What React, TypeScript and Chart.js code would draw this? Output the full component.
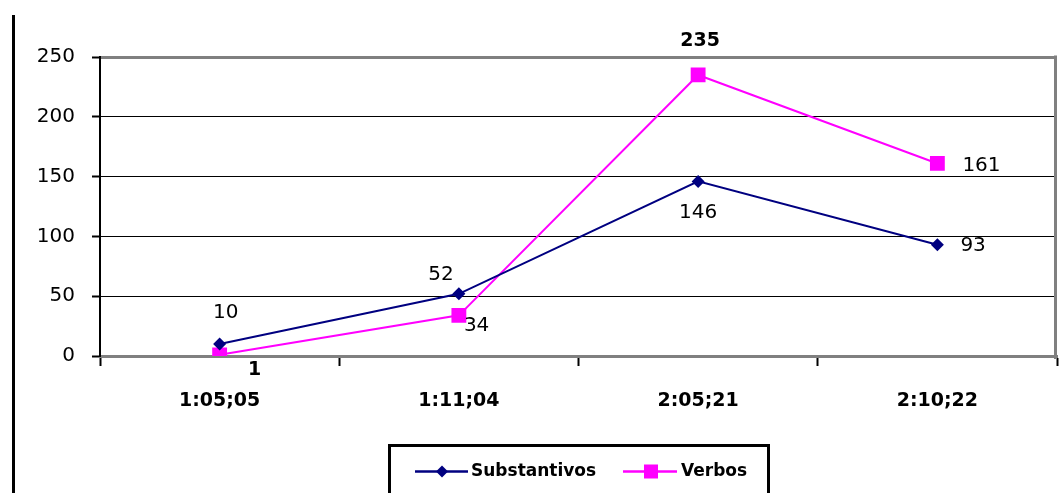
import React, { useEffect, useRef } from "react";
import { Chart, registerables } from "chart.js";

Chart.register(...registerables);

const categories = ["1:05;05", "1:11;04", "2:05;21", "2:10;22"];
const substantivos = [10, 52, 146, 93];
const verbos = [1, 34, 235, 161];
const yTicks = [0, 50, 100, 150, 200, 250];

// label placement (offsets from point, in px) and weight
const subLabelPos = [
  { align: "center", dx: 6, dy: -31, bold: false },
  { align: "center", dx: -18, dy: -19, bold: false },
  { align: "center", dx: 0, dy: 31, bold: false },
  { align: "left", dx: 23, dy: 1, bold: false },
];
const verbLabelPos = [
  { align: "center", dx: 35, dy: 15, bold: true },
  { align: "left", dx: 5, dy: 10, bold: false },
  { align: "center", dx: 2, dy: -34, bold: true },
  { align: "left", dx: 25, dy: 2, bold: false },
];

const NAVY = "#000080";
const MAGENTA = "#FF00FF";
const FONT = "'DejaVu Sans', Verdana, sans-serif";

const framePlugin = {
  id: "frame",
  beforeDraw(chart: any) {
    const ctx = chart.ctx;
    ctx.save();
    ctx.fillStyle = "#fff";
    ctx.fillRect(0, 0, chart.width, chart.height);
    ctx.strokeStyle = "#000";
    ctx.lineWidth = 3;
    ctx.beginPath();
    ctx.moveTo(13.5, 15);
    ctx.lineTo(13.5, chart.height);
    ctx.stroke();
    ctx.restore();
  },
  afterDatasetsDraw(chart: any) {
    const ctx = chart.ctx;
    const ca = chart.chartArea;
    ctx.save();
    ctx.strokeStyle = "#808080";
    ctx.lineWidth = 3;
    ctx.beginPath();
    ctx.moveTo(ca.right - 1.5, ca.top - 1.5);
    ctx.lineTo(ca.right - 1.5, ca.bottom + 3);
    ctx.stroke();
    ctx.restore();
  },
};

const labelsPlugin = {
  id: "pointLabels",
  afterDatasetsDraw(chart: any) {
    const ctx = chart.ctx;
    const sets = [
      { idx: 0, values: substantivos, pos: subLabelPos },
      { idx: 1, values: verbos, pos: verbLabelPos },
    ];
    ctx.save();
    ctx.fillStyle = "#000";
    ctx.textBaseline = "middle";
    sets.forEach((s) => {
      const meta = chart.getDatasetMeta(s.idx);
      meta.data.forEach((pt: any, i: number) => {
        const p = s.pos[i];
        ctx.font = (p.bold ? "bold 19px " : "20px ") + FONT;
        ctx.textAlign = p.align;
        ctx.fillText(String(s.values[i]), pt.x + p.dx, pt.y + p.dy);
      });
    });
    ctx.restore();
  },
};

const legendPlugin = {
  id: "customLegend",
  afterDraw(chart: any) {
    const ctx = chart.ctx;
    ctx.save();
    ctx.strokeStyle = "#000";
    ctx.lineWidth = 3;
    ctx.strokeRect(389.5, 445.5, 379, 80);
    const y = 471.5;
    // Substantivos
    ctx.strokeStyle = NAVY;
    ctx.lineWidth = 2.5;
    ctx.beginPath();
    ctx.moveTo(415, y);
    ctx.lineTo(468, y);
    ctx.stroke();
    ctx.fillStyle = NAVY;
    ctx.beginPath();
    ctx.moveTo(442, y - 6);
    ctx.lineTo(448, y);
    ctx.lineTo(442, y + 6);
    ctx.lineTo(436, y);
    ctx.closePath();
    ctx.fill();
    // Verbos
    ctx.strokeStyle = MAGENTA;
    ctx.beginPath();
    ctx.moveTo(623, y);
    ctx.lineTo(677, y);
    ctx.stroke();
    ctx.fillStyle = MAGENTA;
    ctx.fillRect(644, y - 7, 14, 14);
    ctx.fillStyle = "#000";
    ctx.font = "bold 17px " + FONT;
    ctx.textAlign = "left";
    ctx.textBaseline = "middle";
    ctx.fillText(chart.data.datasets[0].label, 471, y);
    ctx.fillText(chart.data.datasets[1].label, 681, y);
    ctx.restore();
  },
};

export default function App() {
  const ref = useRef<HTMLCanvasElement | null>(null);
  useEffect(() => {
    if (!ref.current) return;
    const chart = new Chart(ref.current, {
      type: "line",
      data: {
        labels: categories,
        datasets: [
          {
            label: "Substantivos",
            data: substantivos,
            borderColor: NAVY,
            backgroundColor: NAVY,
            borderWidth: 2,
            pointStyle: "rectRot",
            pointRadius: 6.5,
            pointBorderWidth: 0,
            tension: 0,
          },
          {
            label: "Verbos",
            data: verbos,
            borderColor: MAGENTA,
            backgroundColor: MAGENTA,
            borderWidth: 2,
            pointStyle: "rect",
            pointRadius: 10.5,
            pointBorderWidth: 0,
            tension: 0,
          },
        ],
      },
      options: {
        animation: false,
        responsive: false,
        maintainAspectRatio: false,
        devicePixelRatio: 1,
        layout: { autoPadding: false, padding: { top: 57, right: 5, left: 0, bottom: 0 } },
        plugins: {
          legend: { display: false },
          tooltip: { enabled: false },
        },
        scales: {
          x: {
            offset: true,
            grid: {
              offset: true,
              drawOnChartArea: false,
              drawTicks: true,
              tickLength: 10,
              tickColor: "#000",
              tickWidth: 2,
            },
            border: { display: true, color: "#808080", width: 3 },
            ticks: {
              color: "#000",
              font: { family: FONT, size: 19, weight: "bold" },
              padding: 24,
              maxRotation: 0,
            },
            afterFit: (s: any) => {
              s.height = 137;
              s.paddingLeft = 0;
              s.paddingRight = 0;
            },
          },
          y: {
            min: yTicks[0],
            max: yTicks[yTicks.length - 1],
            afterBuildTicks: (s: any) => {
              s.ticks = yTicks.map((v) => ({ value: v }));
            },
            grid: {
              color: (c: any) => (c.tick && c.tick.value === 250 ? "#808080" : "#000"),
              lineWidth: (c: any) => (c.tick && c.tick.value === 250 ? 3 : 1),
              drawTicks: true,
              tickLength: 8,
              tickColor: "#000",
              tickWidth: 2,
            },
            border: { display: true, color: "#000", width: 2 },
            ticks: {
              color: "#000",
              font: { family: FONT, size: 20 },
              padding: 17,
            },
            afterFit: (s: any) => {
              s.width = 100;
              s.paddingTop = 0;
              s.paddingBottom = 0;
            },
          },
        },
      },
      plugins: [framePlugin, labelsPlugin, legendPlugin],
    });
    return () => chart.destroy();
  }, []);
  return (
    <div style={{ position: "fixed", left: 0, top: 0, width: 1062, height: 493, background: "#fff" }}>
      <canvas ref={ref} width={1062} height={493} style={{ display: "block" }} />
    </div>
  );
}
